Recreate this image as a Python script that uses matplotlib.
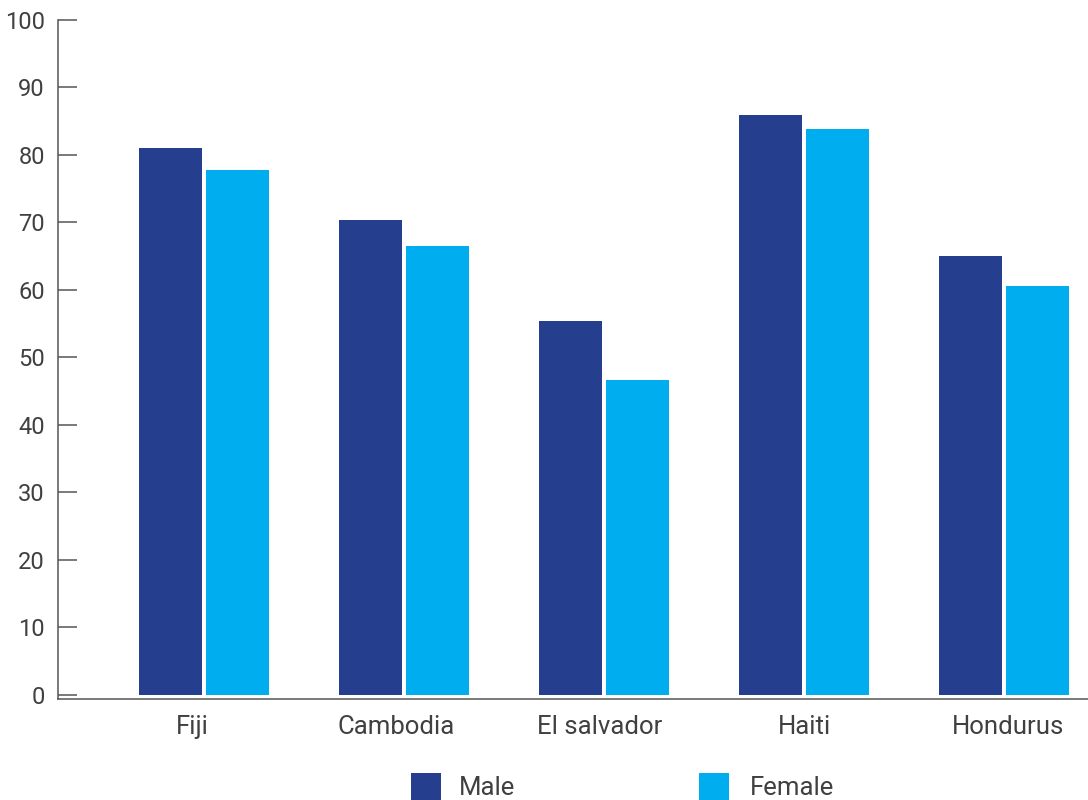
import matplotlib
matplotlib.use("Agg")
import matplotlib.pyplot as plt
from matplotlib.patches import Rectangle
import numpy as np

plt.rcParams['font.family'] = ['Roboto', 'DejaVu Sans']

countries = ["Fiji", "Cambodia", "El salvador", "Haiti", "Hondurus"]
male = [81.0, 70.4, 55.4, 85.9, 65.0]
female = [77.8, 66.5, 46.7, 83.9, 60.6]
yticks = [0, 10, 20, 30, 40, 50, 60, 70, 80, 90, 100]

MALE_COLOR = "#253F8E"
FEMALE_COLOR = "#00AEEF"
TEXT_COLOR = "#404040"
AXIS_COLOR = "#555555"

W, H = 1088, 800
fig = plt.figure(figsize=(W / 100, H / 100), dpi=100)
# axes box in pixels: left 58, right 1088, bottom 699, top 20
ax = fig.add_axes([58 / W, (H - 699) / H, (1088 - 58) / W, (699 - 20) / H])

x = np.arange(len(countries))
bar_w = 0.315
off = 0.1675
ax.bar(x - off, male, width=bar_w, color=MALE_COLOR, linewidth=0)
ax.bar(x + off, female, width=bar_w, color=FEMALE_COLOR, linewidth=0)

ax.set_xlim(-0.73, 4.42)
ax.set_ylim(-0.6, 100)

ax.set_yticks(yticks)
ax.set_yticklabels([str(v) for v in yticks])
ax.tick_params(axis='y', direction='in', length=13.5, width=1.1,
               color=AXIS_COLOR, labelcolor=TEXT_COLOR, labelsize=17,
               pad=9.4)

label_pos = np.arange(len(countries)) * 1.02 - 0.06
ax.set_xticks(label_pos)
ax.set_xticklabels(countries, fontsize=18.5, color=TEXT_COLOR)
ax.tick_params(axis='x', length=0, pad=11.5)

for side in ("top", "right"):
    ax.spines[side].set_visible(False)
for side in ("left", "bottom"):
    ax.spines[side].set_color(AXIS_COLOR)
    ax.spines[side].set_linewidth(1.1)

# legend drawn along the bottom edge
def legend_item(x0, label, color, text_x):
    fig.add_artist(Rectangle((x0 / W, -3 / H), 30 / W, 30 / H,
                             transform=fig.transFigure, color=color,
                             linewidth=0))
    fig.text(text_x / W, (H - 795) / H, label, fontsize=18.5,
             color=TEXT_COLOR, ha='left', va='baseline')

legend_item(411, "Male", MALE_COLOR, 459)
legend_item(699, "Female", FEMALE_COLOR, 750)

fig.savefig("out.png", dpi=100)
